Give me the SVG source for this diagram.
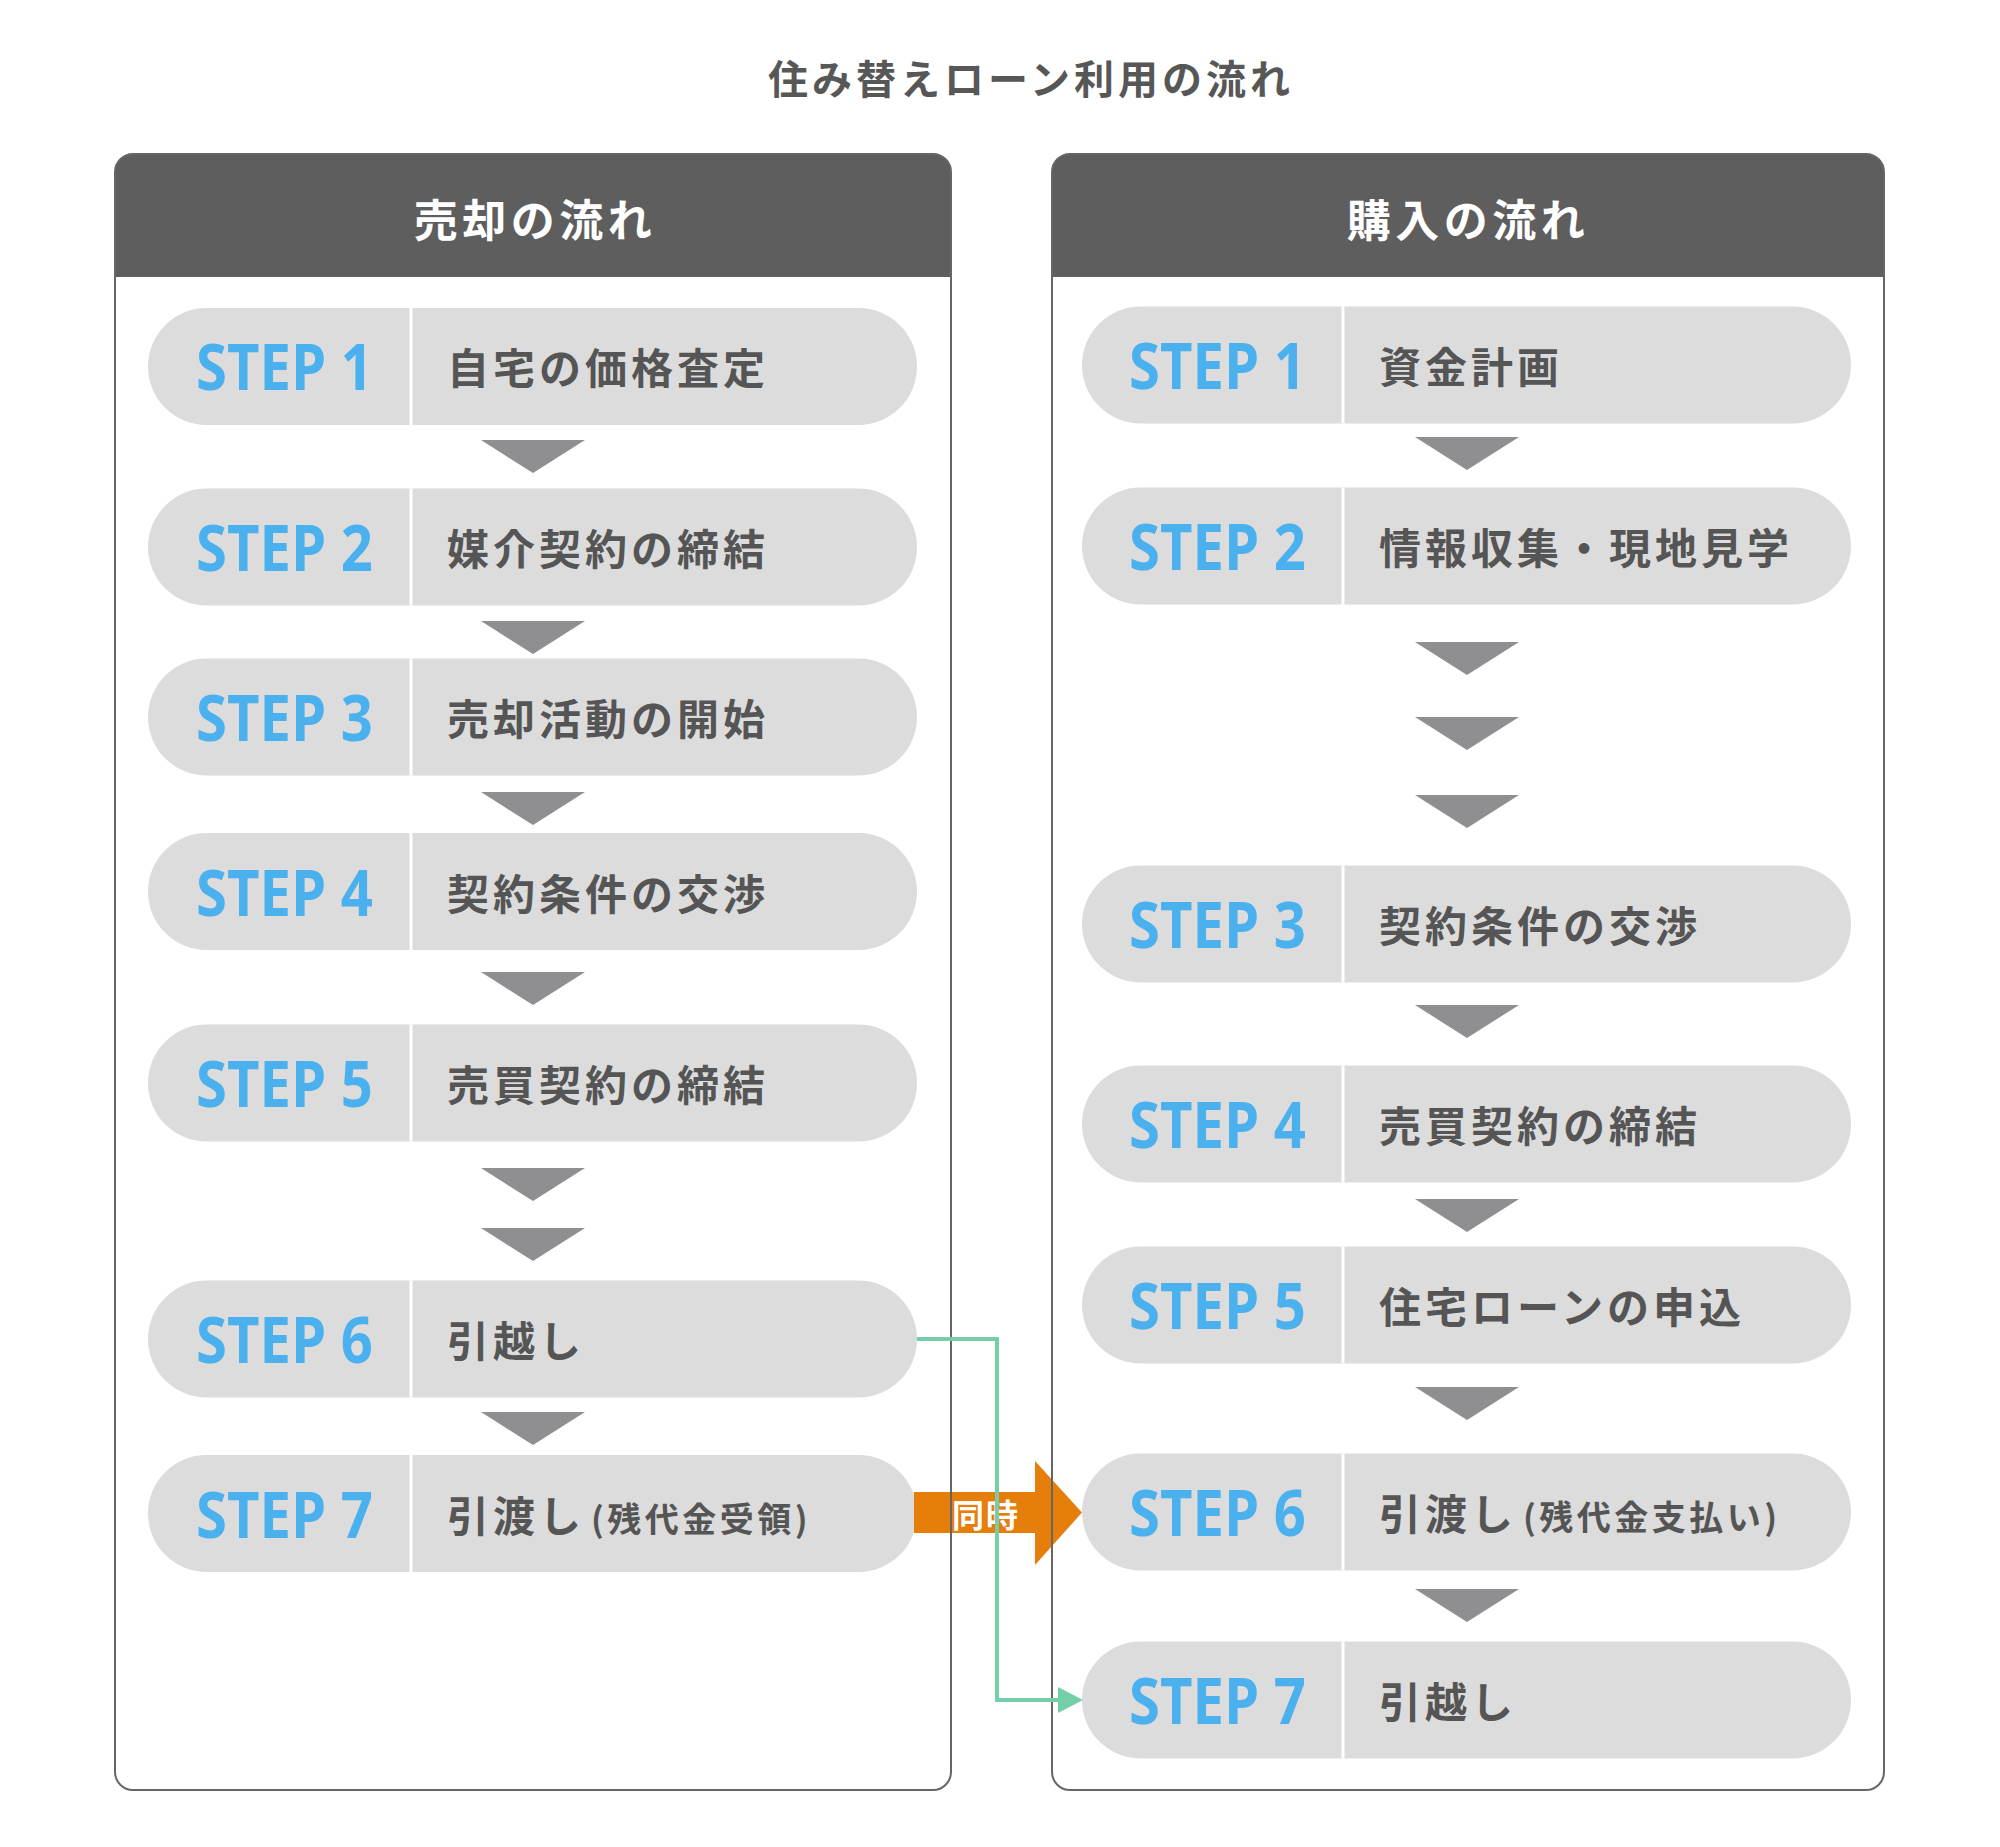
<svg xmlns="http://www.w3.org/2000/svg" width="2000" height="1847" viewBox="0 0 2000 1847">
<defs>
<style>
.title{font-family:"Noto Sans CJK JP","Noto Sans",sans-serif;font-weight:700;font-size:40px;letter-spacing:4px;fill:#575757;text-anchor:middle}
.head{font-family:"Noto Sans CJK JP","Noto Sans",sans-serif;font-weight:700;font-size:44px;letter-spacing:4.5px;fill:#ffffff;text-anchor:middle}
.hbg{fill:#5e5e5e}
.frame{fill:none;stroke:#666666;stroke-width:2}
.pbg{fill:#ffffff}
.pill{fill:#dcdcdc}
.div{stroke:#ffffff;stroke-width:3}
.step{font-family:"Open Sans","Noto Sans",sans-serif;font-weight:700;font-size:65px;fill:#4ab0ee}
.lbl{font-family:"Noto Sans CJK JP","Noto Sans",sans-serif;font-weight:700;font-size:42px;letter-spacing:4px;fill:#555555}
.sm{font-size:34px;letter-spacing:3.5px}
.tri{fill:#8f8f91}
.same{font-family:"Noto Sans CJK JP","Noto Sans",sans-serif;font-weight:700;font-size:32px;letter-spacing:2px;fill:#ffffff;text-anchor:middle}
</style>
<polygon id="tri" points="-52,0 52,0 0,33"/>
</defs>
<rect width="2000" height="1847" fill="#ffffff"/>
<text class="title" x="1031" y="94">住み替えローン利用の流れ</text>

<g id="panel-sell">
<rect class="pbg" x="115" y="154" width="836" height="1636" rx="18"/>
<path class="hbg" d="M115,277 V172 A18,18 0 0 1 133,154 H933 A18,18 0 0 1 951,172 V277 Z"/>
<text class="head" x="535" y="237">売却の流れ</text>
</g>
<g id="panel-buy">
<rect class="pbg" x="1052" y="154" width="832" height="1636" rx="18"/>
<path class="hbg" d="M1052,277 V172 A18,18 0 0 1 1070,154 H1866 A18,18 0 0 1 1884,172 V277 Z"/>
<text class="head" x="1468" y="237">購入の流れ</text>
</g>

<g id="sell-steps">
<g id="s1"><rect class="pill" x="148" y="308" width="769" height="117" rx="58.5"/><line class="div" x1="411" y1="308" x2="411" y2="425"/><text class="step" x="196" y="390" textLength="177" lengthAdjust="spacingAndGlyphs">STEP 1</text><text class="lbl" x="447" y="384">自宅の価格査定</text></g>
<g id="s2"><rect class="pill" x="148" y="488.5" width="769" height="117" rx="58.5"/><line class="div" x1="411" y1="488.5" x2="411" y2="605.5"/><text class="step" x="196" y="571" textLength="177" lengthAdjust="spacingAndGlyphs">STEP 2</text><text class="lbl" x="447" y="565">媒介契約の締結</text></g>
<g id="s3"><rect class="pill" x="148" y="658.5" width="769" height="117" rx="58.5"/><line class="div" x1="411" y1="658.5" x2="411" y2="775.5"/><text class="step" x="196" y="741" textLength="177" lengthAdjust="spacingAndGlyphs">STEP 3</text><text class="lbl" x="447" y="735">売却活動の開始</text></g>
<g id="s4"><rect class="pill" x="148" y="833" width="769" height="117" rx="58.5"/><line class="div" x1="411" y1="833" x2="411" y2="950"/><text class="step" x="196" y="915.5" textLength="177" lengthAdjust="spacingAndGlyphs">STEP 4</text><text class="lbl" x="447" y="909.5">契約条件の交渉</text></g>
<g id="s5"><rect class="pill" x="148" y="1024.5" width="769" height="117" rx="58.5"/><line class="div" x1="411" y1="1024.5" x2="411" y2="1141.5"/><text class="step" x="196" y="1107" textLength="177" lengthAdjust="spacingAndGlyphs">STEP 5</text><text class="lbl" x="447" y="1101">売買契約の締結</text></g>
<g id="s6"><rect class="pill" x="148" y="1280.5" width="769" height="117" rx="58.5"/><line class="div" x1="411" y1="1280.5" x2="411" y2="1397.5"/><text class="step" x="196" y="1363" textLength="177" lengthAdjust="spacingAndGlyphs">STEP 6</text><text class="lbl" x="447" y="1357">引越し</text></g>
<g id="s7"><rect class="pill" x="148" y="1455" width="769" height="117" rx="58.5"/><line class="div" x1="411" y1="1455" x2="411" y2="1572"/><text class="step" x="196" y="1537.5" textLength="177" lengthAdjust="spacingAndGlyphs">STEP 7</text><text class="lbl" x="447" y="1531.5">引渡し<tspan class="sm" dx="6">(残代金受領)</tspan></text></g>
</g>

<g id="buy-steps">
<g id="b1"><rect class="pill" x="1082" y="306.5" width="769" height="117" rx="58.5"/><line class="div" x1="1343" y1="306.5" x2="1343" y2="423.5"/><text class="step" x="1129" y="389" textLength="177" lengthAdjust="spacingAndGlyphs">STEP 1</text><text class="lbl" x="1379" y="383">資金計画</text></g>
<g id="b2"><rect class="pill" x="1082" y="487.5" width="769" height="117" rx="58.5"/><line class="div" x1="1343" y1="487.5" x2="1343" y2="604.5"/><text class="step" x="1129" y="570" textLength="177" lengthAdjust="spacingAndGlyphs">STEP 2</text><text class="lbl" x="1379" y="564">情報収集・現地見学</text></g>
<g id="b3"><rect class="pill" x="1082" y="865.5" width="769" height="117" rx="58.5"/><line class="div" x1="1343" y1="865.5" x2="1343" y2="982.5"/><text class="step" x="1129" y="948" textLength="177" lengthAdjust="spacingAndGlyphs">STEP 3</text><text class="lbl" x="1379" y="942">契約条件の交渉</text></g>
<g id="b4"><rect class="pill" x="1082" y="1065.5" width="769" height="117" rx="58.5"/><line class="div" x1="1343" y1="1065.5" x2="1343" y2="1182.5"/><text class="step" x="1129" y="1148" textLength="177" lengthAdjust="spacingAndGlyphs">STEP 4</text><text class="lbl" x="1379" y="1142">売買契約の締結</text></g>
<g id="b5"><rect class="pill" x="1082" y="1246.5" width="769" height="117" rx="58.5"/><line class="div" x1="1343" y1="1246.5" x2="1343" y2="1363.5"/><text class="step" x="1129" y="1329" textLength="177" lengthAdjust="spacingAndGlyphs">STEP 5</text><text class="lbl" x="1379" y="1323">住宅ローンの申込</text></g>
<g id="b6"><rect class="pill" x="1082" y="1453.5" width="769" height="117" rx="58.5"/><line class="div" x1="1343" y1="1453.5" x2="1343" y2="1570.5"/><text class="step" x="1129" y="1536" textLength="177" lengthAdjust="spacingAndGlyphs">STEP 6</text><text class="lbl" x="1379" y="1530">引渡し<tspan class="sm" dx="6">(残代金支払い)</tspan></text></g>
<g id="b7"><rect class="pill" x="1082" y="1641.5" width="769" height="117" rx="58.5"/><line class="div" x1="1343" y1="1641.5" x2="1343" y2="1758.5"/><text class="step" x="1129" y="1724" textLength="177" lengthAdjust="spacingAndGlyphs">STEP 7</text><text class="lbl" x="1379" y="1718">引越し</text></g>
</g>

<g id="connectors">
<g class="tri">
<use href="#tri" x="533" y="440"/>
<use href="#tri" x="533" y="621"/>
<use href="#tri" x="533" y="792"/>
<use href="#tri" x="533" y="972"/>
<use href="#tri" x="533" y="1168"/>
<use href="#tri" x="533" y="1228"/>
<use href="#tri" x="533" y="1412"/>
<use href="#tri" x="1467" y="437"/>
<use href="#tri" x="1467" y="642"/>
<use href="#tri" x="1467" y="717"/>
<use href="#tri" x="1467" y="795"/>
<use href="#tri" x="1467" y="1005"/>
<use href="#tri" x="1467" y="1199"/>
<use href="#tri" x="1467" y="1387"/>
<use href="#tri" x="1467" y="1589"/>
</g>
<g id="simultaneous">
<polygon fill="#e67e0c" points="914,1492 1035,1492 1035,1461 1082,1512.5 1035,1565 1035,1533 914,1533"/>
<text class="same" x="986" y="1527">同時</text>
</g>
</g>

<rect class="frame" x="115" y="154" width="836" height="1636" rx="18"/>
<rect class="frame" x="1052" y="154" width="832" height="1636" rx="18"/>

<g id="move-link">
<path d="M917,1339 H997 V1700 H1062" fill="none" stroke="#74cfa8" stroke-width="4"/>
<polygon fill="#74cfa8" points="1058,1687 1083,1700 1058,1713"/>
</g>
</svg>
